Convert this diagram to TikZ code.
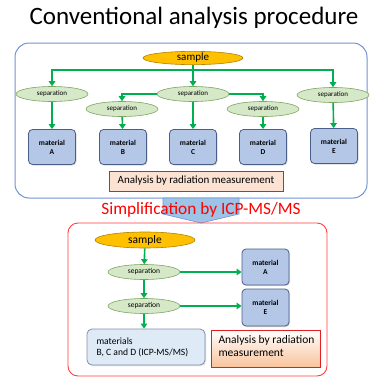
\documentclass[tikz,border=0pt]{standalone}
\usepackage{fontspec}
\setmainfont{Carlito}
\usetikzlibrary{shapes.geometric,arrows.meta,shadows}
\definecolor{boxblue}{HTML}{7393D6}
\definecolor{matfill}{HTML}{B4C7E7}
\definecolor{matdraw}{HTML}{4A5E8A}
\definecolor{sepfill}{HTML}{D5E8C8}
\definecolor{sepdraw}{HTML}{7FA661}
\definecolor{samplefill}{HTML}{FFC000}
\definecolor{sampledraw}{HTML}{B08400}
\definecolor{flowgreen}{HTML}{00B050}
\definecolor{redline}{HTML}{E02020}
\definecolor{peach}{HTML}{F8CBAD}
\definecolor{bcdfill}{HTML}{DEEBF7}
\definecolor{arrowblue}{HTML}{9DC3E6}
\tikzset{
  sampleell/.style={ellipse, draw=sampledraw, fill=samplefill, line width=0.6pt, inner sep=0pt},
  sepell/.style={ellipse, draw=sepdraw, fill=sepfill, line width=0.6pt, minimum width=72pt, minimum height=15pt, inner sep=0pt, font=\fontsize{7}{8}\selectfont},
  matbox/.style={draw=matdraw, fill=matfill, rounded corners=4pt, line width=0.8pt, minimum width=47pt, minimum height=35pt, inner sep=0pt, align=center, font=\bfseries\fontsize{7.5}{9}\selectfont, drop shadow={opacity=0.3, shadow xshift=1pt, shadow yshift=-1pt}},
  flow/.style={draw=flowgreen, line width=1.6pt, -{Triangle[length=5pt,width=6.5pt]}},
  flowline/.style={draw=flowgreen, line width=1.6pt},
  analbox/.style={draw=redline, line width=1pt, inner sep=0pt, drop shadow={opacity=0.3, shadow xshift=1pt, shadow yshift=-1pt}},
}
\begin{document}
\begin{tikzpicture}[x=1pt,y=-1pt]
\useasboundingbox (0,0) rectangle (371,378);
\fill[white] (0,0) rectangle (371,378);
% title
\node[font=\fontsize{25}{28}\selectfont] (title) at (194,18) {Conventional analysis procedure};
% top box
\draw[boxblue, line width=1pt, rounded corners=14pt] (15,43) rectangle (367,198);
\node[sampleell, minimum width=100pt, minimum height=13pt, font=\fontsize{11}{12}\selectfont] (s1) at (193,58) {sample};
\coordinate (j1) at (193,70);
\node[sepell] (sA) at (52,94) {separation};
\node[sepell] (sC) at (193,94) {separation};
\node[sepell] (sE) at (333,95) {separation};
\node[sepell] (sB) at (122,109) {separation};
\node[sepell] (sD) at (263,109) {separation};
\node[matbox] (mA) at (52,147) {material\\A};
\node[matbox] (mB) at (123,147) {material\\B};
\node[matbox] (mC) at (193,147) {material\\C};
\node[matbox] (mD) at (263,147) {material\\D};
\node[matbox] (mE) at (334,146) {material\\E};
\path[flowline] (s1) -- (j1);
\path[flow] (j1) -| (sA);
\path[flow] (j1) -| (sE);
\path[flow] (j1) -- (sC);
\path[flow] (sC.west) -| (sB);
\path[flow] (sC.east) -| (sD);
\path[flow] (sA) -- (mA);
\path[flow] (sB) -- (mB);
\path[flow] (sC) -- (mC);
\path[flow] (sD) -- (mD);
\path[flow] (sE) -- (mE);
\node[analbox, fill=peach!55, minimum width=174pt, minimum height=20pt, font=\fontsize{11}{12}\selectfont] (a1) at (196,181) {Analysis by radiation measurement};
% blue arrow
\draw[draw=boxblue, fill=arrowblue, line width=0.6pt] (163,198) -- (239,198) -- (239,214) -- (201,223) -- (163,214) -- cycle;
\node[text=red, font=\fontsize{17.3}{19}\selectfont] (t2) at (201,210) {Simplification by ICP-MS/MS};
% bottom box
\draw[red!75, line width=0.9pt, rounded corners=10pt] (68,223) rectangle (327,376);
\node[sampleell, minimum width=100pt, minimum height=16pt, font=\fontsize{11.5}{12}\selectfont] (s2) at (145,240) {sample};
\node[sepell, font=\fontsize{7.5}{8}\selectfont] (p1) at (144,272) {separation};
\node[sepell, font=\fontsize{7.5}{8}\selectfont] (p2) at (144,306) {separation};
\node[matbox, minimum height=36pt] (nA) at (265.5,267) {material\\A};
\node[matbox, minimum height=37pt] (nE) at (265.5,307.5) {material\\E};
\node[draw=matdraw!70, fill=bcdfill, rounded corners=5pt, line width=0.8pt, minimum width=118pt, minimum height=36pt, inner sep=0pt, drop shadow={opacity=0.25, shadow xshift=1pt, shadow yshift=-1pt}] (bcd) at (146,347) {};
\node[anchor=west, align=left, font=\fontsize{9.6}{11}\selectfont] (bcdt) at (93,347) {materials\\B, C and D (ICP-MS/MS)};
\node[analbox, top color=white, bottom color=peach!90!orange, minimum width=109pt, minimum height=37pt] (a2) at (265.5,348.5) {};
\node[anchor=north west, align=left, font=\fontsize{11.5}{13}\selectfont] (a2t) at (215,332) {Analysis by radiation\\measurement};
\path[flow] (s2) -- (p1);
\path[flow] (p1) -- (p2);
\path[flow] (p2.south) -- (p2.south |- bcd.north);
\path[flow] (p1.east) -- (p1.east -| nA.west);
\path[flow] (p2.east) -- (p2.east -| nE.west);
\end{tikzpicture}
\end{document}
